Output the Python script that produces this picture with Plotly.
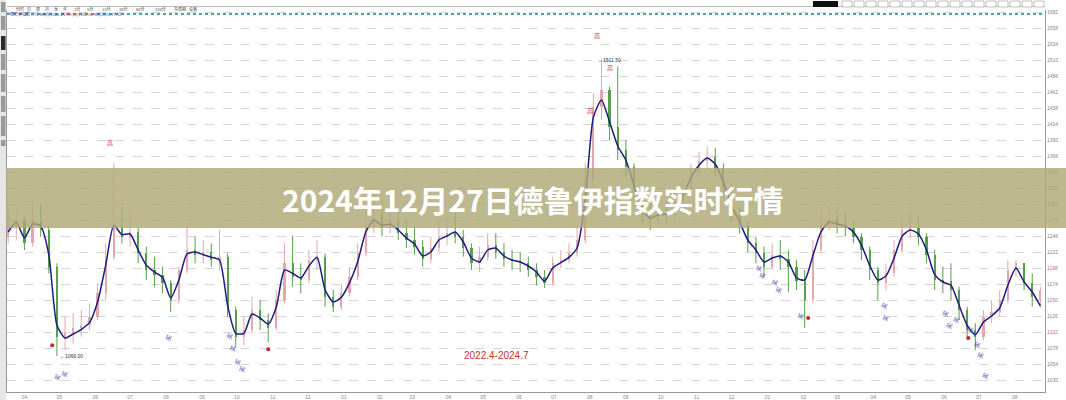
import pandas as pd
import plotly.graph_objects as go

# ---------------- data (weekly OHLC) ----------------
start_date = "2022-03-18"
opens = [1245,1262,1270,1235,1268,1255,1200,1095,1100,1108,1112,1125,1160,1215,1260,1245,1252,1220,1195,1188,
         1175,1150,1195,1225,1218,1222,1210,1215,1135,1095,1105,1135,1120,1108,1150,1205,1185,1180,1210,1215,
         1155,1140,1160,1185,1220,1260,1275,1258,1268,1250,1240,1230,1212,1228,1245,1250,1245,1228,1205,1215,
         1232,1222,1212,1208,1205,1195,1185,1175,1205,1210,1220,1240,1330,1440,1465,1410,1375,1350,1315,1280,
         1270,1282,1278,1295,1315,1340,1358,1365,1348,1320,1285,1262,1235,1220,1200,1218,1212,1200,1178,1150,
         1225,1262,1270,1262,1258,1245,1225,1195,1175,1190,1225,1255,1258,1245,1218,1180,1178,1165,1135,1105,
         1095,1125,1132,1150,1195,1205,1175,1150]
highs = [1290,1285,1275,1292,1295,1262,1205,1125,1130,1135,1145,1175,1235,1355,1290,1285,1258,1230,1215,1200,
         1180,1200,1262,1245,1240,1235,1255,1220,1140,1125,1155,1150,1130,1165,1235,1247,1205,1225,1240,1220,
         1165,1175,1200,1235,1290,1307,1300,1295,1285,1270,1260,1240,1245,1268,1275,1280,1255,1235,1230,1250,
         1250,1235,1225,1222,1215,1205,1195,1215,1225,1235,1260,1355,1460,1511,1470,1500,1390,1355,1320,1295,
         1300,1298,1310,1330,1355,1372,1380,1378,1355,1325,1290,1268,1245,1230,1235,1240,1225,1210,1195,1240,
         1280,1290,1285,1282,1270,1250,1230,1200,1205,1240,1275,1280,1275,1250,1225,1200,1205,1170,1140,1115,
         1135,1150,1165,1210,1210,1205,1190,1170]
lows = [1235,1240,1225,1230,1245,1190,1066,1075,1085,1095,1105,1120,1150,1210,1235,1230,1205,1180,1170,1160,
        1132,1145,1190,1205,1205,1200,1195,1125,1080,1082,1100,1105,1087,1105,1145,1170,1160,1175,1195,1140,
        1132,1135,1155,1180,1215,1250,1245,1250,1240,1228,1218,1200,1205,1222,1232,1235,1215,1195,1192,1210,
        1212,1200,1195,1192,1185,1172,1168,1172,1198,1205,1215,1235,1320,1420,1390,1360,1335,1300,1265,1255,
        1262,1265,1270,1290,1310,1335,1345,1335,1305,1270,1250,1222,1205,1185,1195,1195,1162,1165,1108,1145,
        1220,1255,1250,1245,1235,1210,1180,1150,1165,1185,1220,1242,1232,1205,1165,1160,1150,1120,1090,1075,
        1090,1115,1125,1145,1185,1165,1140,1138]
closes = [1262,1270,1235,1268,1255,1200,1095,1100,1108,1112,1125,1160,1215,1260,1245,1252,1220,1195,1188,1175,
          1150,1195,1225,1218,1222,1210,1215,1135,1095,1105,1135,1120,1108,1150,1205,1185,1180,1210,1215,1155,
          1140,1160,1185,1220,1260,1275,1258,1268,1250,1240,1230,1212,1228,1245,1250,1245,1228,1205,1215,1232,
          1222,1212,1208,1205,1195,1185,1175,1205,1210,1220,1240,1330,1440,1465,1410,1375,1350,1315,1280,1270,
          1282,1278,1295,1315,1340,1358,1365,1348,1320,1285,1262,1235,1220,1200,1218,1212,1200,1178,1150,1225,
          1262,1270,1262,1258,1245,1225,1195,1175,1190,1225,1255,1258,1245,1218,1180,1178,1165,1135,1105,1095,
          1125,1132,1150,1195,1205,1175,1155,1165]
ma_line = [1252,1267,1243,1264,1261,1218,1112,1093,1099,1106,1116,1147,1202,1262,1248,1249,1225,1202,1192,1184,
           1153,1180,1219,1222,1218,1214,1210,1142,1100,1100,1129,1123,1114,1140,1195,1190,1183,1201,1214,1165,
           1147,1154,1176,1207,1252,1270,1262,1264,1255,1243,1234,1216,1222,1240,1246,1252,1237,1213,1207,1225,
           1228,1216,1210,1207,1201,1192,1178,1198,1206,1214,1228,1300,1424,1450,1417,1381,1360,1322,1285,1273,
           1278,1279,1288,1306,1333,1352,1363,1354,1327,1292,1267,1240,1225,1207,1213,1216,1207,1183,1180,1216,
           1252,1267,1264,1261,1252,1232,1202,1180,1186,1213,1246,1255,1249,1225,1188,1177,1172,1142,1112,1098,
           1117,1126,1138,1172,1198,1177,1162,1141]

y_ticks = [1582,1558,1534,1510,1486,1462,1438,1414,1390,1366,1342,1318,1294,1270,1246,1222,1198,1174,
           1150,1126,1102,1078,1054,1030]

red_dot_dates = ["2022-04-25", "2022-10-28", "2024-02-05", "2024-06-22"]
red_dot_vals = [1082, 1076, 1123, 1093]

mark_dates = ["2022-06-14", "2023-08-07", "2023-08-18", "2023-08-01"]
mark_vals = [1387, 1547, 1499, 1435]

blue_dates = ["2022-04-29","2022-05-05","2022-08-03","2022-09-24","2022-09-27","2022-10-01","2022-10-05",
              "2023-12-24","2023-12-27","2024-01-07","2024-01-10","2024-01-29","2024-04-10","2024-04-11",
              "2024-06-02","2024-06-05","2024-06-11","2024-06-23","2024-06-29","2024-07-02","2024-07-06"]
blue_vals = [1034,1039,1094,1096,1078,1057,1046,1198,1186,1177,1165,1126,1141,1123,1130,1111,1120,1105,1082,1067,1036]

title_text = "2024年12月27日德鲁伊指数实时行情"
period_text = "2022.4-2024.7"
low_text = "←1066.00"
high_text = "←1511.50"
low_label = ("2022-04-30", 1066)
high_label = ("2023-08-06", 1510)
period_pos = ("2023-05-13", 1067)

# ---------------- build ----------------
n = len(closes)
dates = pd.date_range(start_date, periods=n, freq="7D")
df = pd.DataFrame({"d": dates, "o": opens[:n], "h": highs[:n], "l": lows[:n], "c": closes[:n]})
df["up"] = df["c"] >= df["o"]

UP = "#e6a7ab"
DN = "#55a04a"
DAY = 86400000

fig = go.Figure()

for is_up, col in [(True, UP), (False, DN)]:
    sub = df[df["up"] == is_up]
    wx, wy = [], []
    for _, r in sub.iterrows():
        wx += [r["d"], r["d"], None]
        wy += [r["l"], r["h"], None]
    fig.add_trace(go.Scatter(x=wx, y=wy, mode="lines", line=dict(color=col, width=1),
                             hoverinfo="skip", showlegend=False))
    fig.add_trace(go.Bar(x=sub["d"], y=(sub["c"] - sub["o"]).abs().clip(lower=1.5),
                         base=sub[["o", "c"]].min(axis=1), width=1.9 * DAY,
                         marker=dict(color=col, line=dict(width=0)), showlegend=False))

fig.add_trace(go.Scatter(x=dates, y=ma_line[:n], mode="lines",
                         line=dict(color="#1b1b86", width=1.5, shape="spline", smoothing=0.6),
                         showlegend=False))

fig.add_trace(go.Scatter(x=pd.to_datetime(red_dot_dates), y=red_dot_vals, mode="markers",
                         marker=dict(color="#d0202a", size=4), showlegend=False))

# plot area geometry helpers (paper coords)
L, R, T, B = 7, 1045, 10, 392
W, H = R - L, B - T
def px(x):
    return (x - L) / W
def py(y):
    return (B - y) / H

ann = []
for d, v in zip(mark_dates, mark_vals):
    ann.append(dict(x=d, y=v, xref="x", yref="y", text="高", showarrow=False,
                    font=dict(size=6, color="#d03030", family="Noto Sans CJK SC")))
for d, v in zip(blue_dates, blue_vals):
    ann.append(dict(x=d, y=v, xref="x", yref="y", text="买", showarrow=False, textangle=-70,
                    font=dict(size=6, color="#3a3ab0", family="Noto Sans CJK SC")))
ann.append(dict(x=low_label[0], y=low_label[1], xref="x", yref="y", text=low_text, showarrow=False,
                xanchor="left", font=dict(size=5, color="#333333", family="Liberation Sans")))
ann.append(dict(x=high_label[0], y=high_label[1], xref="x", yref="y", text=high_text, showarrow=False,
                xanchor="left", font=dict(size=5, color="#333333", family="Liberation Sans")))
ann.append(dict(x=period_pos[0], y=period_pos[1], xref="x", yref="y", text=period_text, showarrow=False,
                font=dict(size=10, color="#c8322f", family="Liberation Sans")))
# title banner text
ann.append(dict(x=px(533), y=py(199), xref="paper", yref="paper", text="<b>" + title_text + "</b>",
                showarrow=False, font=dict(size=30, color="#ffffff", family="Noto Sans CJK SC")))

# toolbar texts
tabs = ["分时", "日", "周", "月", "季", "年", "1分", "5分", "15分", "30分", "60分", "120分", "多周期", "设置"]
tx = 8
for t in tabs:
    w = 4 + 4 * len(t)
    ann.append(dict(x=px(tx + w / 2), y=py(3.5), xref="paper", yref="paper", text=t, showarrow=False,
                    font=dict(size=4, color="#444444", family="Noto Sans CJK SC")))
    tx += w + 1
ann.append(dict(x=px(8), y=py(9.5), xref="paper", yref="paper", xanchor="left",
                text="<span style='color:#3a3ab0'>德鲁伊指数</span> <span style='color:#888'>日线</span> "
                     "<span style='color:#1b1b86'>MA(5)1141.25</span> <span style='color:#c03030'>MA(10)1162.08</span> "
                     "<span style='color:#3a3ab0'>MA(20)1177.52</span>",
                showarrow=False, font=dict(size=4, family="Noto Sans CJK SC")))

shapes = []
# banner
shapes.append(dict(type="rect", xref="paper", yref="paper", x0=px(0), x1=px(1066), y0=py(228), y1=py(168),
                   fillcolor="rgba(176,168,118,0.82)", line=dict(width=0), layer="above"))
# teal dotted line at top
shapes.append(dict(type="line", xref="paper", yref="paper", x0=0, x1=1, y0=py(14), y1=py(14),
                   line=dict(color="#4aa3ab", width=2, dash="dot")))
# top toolbar separator line
shapes.append(dict(type="line", xref="paper", yref="paper", x0=0, x1=1, y0=py(6.5), y1=py(6.5),
                   line=dict(color="#bbbbbb", width=1)))
# left vertical toolbar
shapes.append(dict(type="rect", xref="paper", yref="paper", x0=px(0), x1=px(6), y0=py(400), y1=py(0),
                   fillcolor="#e6e6e6", line=dict(width=0)))
for y0, y1, c in [(2, 12, "#9a9a9a"), (16, 30, "#9a9a9a"), (36, 50, "#2a2a2a"), (54, 70, "#9a9a9a"),
                  (74, 92, "#9a9a9a"), (96, 112, "#9a9a9a"), (116, 136, "#9a9a9a"), (140, 146, "#9a9a9a")]:
    shapes.append(dict(type="rect", xref="paper", yref="paper", x0=px(1), x1=px(5.5), y0=py(y1), y1=py(y0),
                       fillcolor=c, line=dict(width=0)))
# top right controls
shapes.append(dict(type="rect", xref="paper", yref="paper", x0=px(813), x1=px(838), y0=py(7), y1=py(1),
                   fillcolor="#111111", line=dict(width=0)))
for x0 in [842, 854, 866, 878, 890, 902, 914, 926, 938, 950, 962, 974, 986, 998, 1010, 1022, 1034]:
    shapes.append(dict(type="rect", xref="paper", yref="paper", x0=px(x0), x1=px(x0 + 10), y0=py(7), y1=py(1),
                       fillcolor="#ffffff", line=dict(color="#999999", width=0.6)))

fig.update_layout(
    width=1066, height=400,
    margin=dict(l=L, r=1066 - R, t=T, b=400 - B, pad=0, autoexpand=False),
    paper_bgcolor="#ffffff", plot_bgcolor="#ffffff",
    barmode="overlay", bargap=0,
    showlegend=False,
    annotations=ann, shapes=shapes,
    xaxis=dict(type="date", range=["2022-03-17", "2024-08-27"], dtick="M1", tick0="2022-04-01",
               tickformat="%m", showgrid=False, showline=True, linecolor="#999999", linewidth=1,
               mirror=False, ticks="", automargin=False,
               tickfont=dict(size=5, color="#888888", family="Liberation Sans"), zeroline=False),
    yaxis=dict(side="right", range=[1012, 1585], tickvals=y_ticks, ticktext=[str(v) for v in y_ticks],
               showgrid=True, gridcolor="#d6d6d6", griddash="dash", gridwidth=1, automargin=False,
               showline=True, linecolor="#999999", linewidth=1, mirror=True, ticks="",
               tickfont=dict(size=5, color="#888888", family="Liberation Sans"), zeroline=False),
)

fig.write_html("out.html", config={"displayModeBar": False},
               post_script="document.body.style.margin='0';document.body.style.overflow='hidden';")
